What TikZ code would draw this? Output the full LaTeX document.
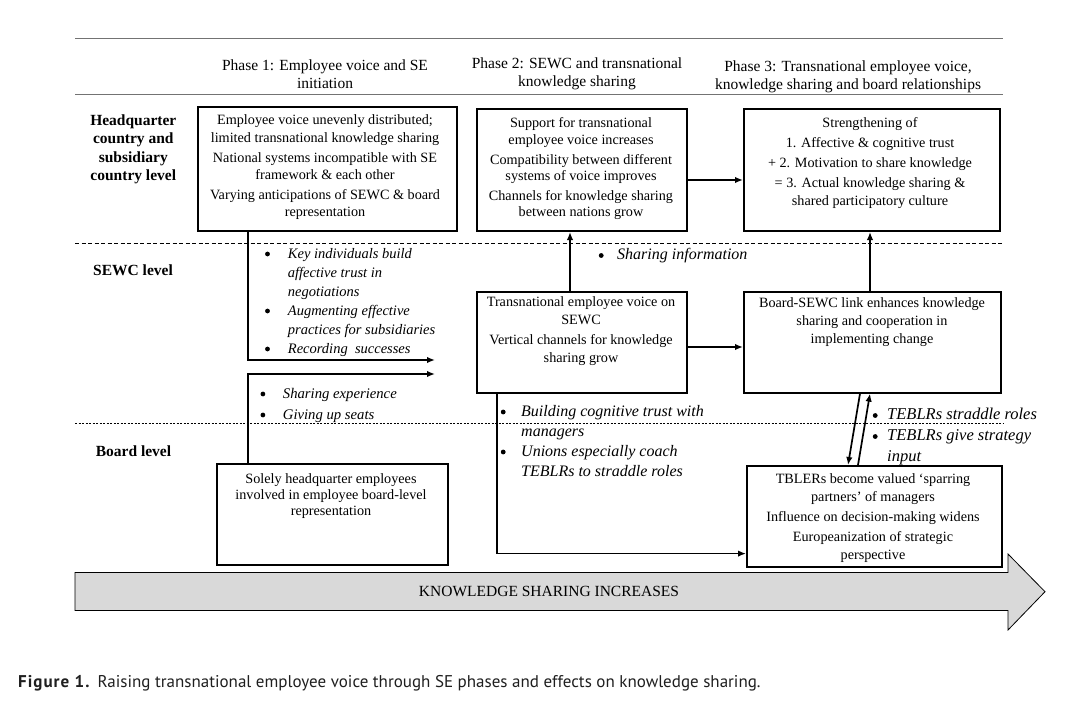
\documentclass[tikz,border=0pt]{standalone}
\usepackage{fontspec}
\setmainfont{Liberation Serif}
\newfontfamily\capfont{PT Sans}
\usetikzlibrary{arrows.meta}
\newcommand{\ctab}[1]{\begin{tabular}[t]{@{}c@{}}#1\end{tabular}}
\newcommand{\blist}[2]{\begin{tabular}[t]{@{}p{#1}@{}l@{}}#2\end{tabular}}
\newcommand{\bul}{\tikz[baseline=0pt]\fill[black] (0pt,4pt) circle (2.4pt);}
\tikzset{
  rule/.style={draw=black!55, line width=0.9pt},
  sepdash/.style={draw=black, line width=0.9pt, dash pattern=on 4pt off 2.5pt},
  sepdot/.style={draw=black, line width=1.5pt, dash pattern=on 2pt off 1.5pt},
  topbox/.style={draw=black, line width=2pt, fill=white, anchor=north west, inner sep=0pt},
  lowbox/.style={draw=black, line width=1.6pt, fill=white, anchor=north west, inner sep=0pt},
  hdr/.style={anchor=base, inner sep=0pt, font=\fontsize{15.5}{18.5}\selectfont},
  lab/.style={anchor=base, inner sep=0pt, font=\bfseries\fontsize{15.5}{18.3}\selectfont},
  boxtxt/.style={anchor=base, inner sep=0pt, font=\fontsize{14.2}{17.3}\selectfont},
  bl/.style={anchor=base west, inner sep=0pt, font=\itshape\fontsize{14.5}{19}\selectfont},
  conn/.style={draw=black, line width=1.7pt, -{Latex[length=8pt,width=6.5pt]}},
}
\begin{document}
\begin{tikzpicture}[x=1pt,y=-1pt]
\useasboundingbox[fill=white] (0,0) rectangle (1073,714);

% rules and level separators
\draw[rule] (75,38.5) -- (1003,38.5);
\draw[rule] (75,94.5) -- (1003,94.5);
\draw[sepdash] (75,243) -- (1003,243);
\draw[sepdot] (75,423.5) -- (1003,423.5);

% phase headers
\node[hdr] (p1) at (325,70.5) {\ctab{Phase 1: Employee voice and SE\\initiation}};
\node[hdr] (p2) at (577,68.5) {\ctab{Phase 2: SEWC and transnational\\knowledge sharing}};
\node[hdr] (p3) at (848,71.5) {\ctab{Phase 3: Transnational employee voice,\\knowledge sharing and board relationships}};

% level labels
\node[lab] (r1) at (133.3,125.5) {\ctab{Headquarter\\country and\\subsidiary\\country level}};
\node[lab] (r2) at (133,275) {SEWC level};
\node[lab] (r3) at (133.5,456.5) {Board level};

% boxes
\node[topbox, minimum width=259pt, minimum height=124pt] (b1) at (197,106) {};
\node[topbox, minimum width=210pt, minimum height=122pt] (b2) at (476,108) {};
\node[topbox, minimum width=256pt, minimum height=122pt] (b3) at (743,108) {};
\node[lowbox, minimum width=210pt, minimum height=101pt] (b4) at (476,291) {};
\node[lowbox, minimum width=257pt, minimum height=101pt] (b5) at (743,291) {};
\node[lowbox, minimum width=231pt, minimum height=101pt] (b6) at (216,463) {};
\node[lowbox, minimum width=255pt, minimum height=101pt] (b7) at (746,465) {};

% box texts
\node[boxtxt] (t1) at (325,125) {\ctab{Employee voice unevenly distributed;\\limited transnational knowledge sharing\\[2.7pt]National systems incompatible with SE\\framework \& each other\\[2.7pt]Varying anticipations of SEWC \& board\\representation}};
\node[boxtxt, font=\fontsize{14.2}{16.8}\selectfont] (t2) at (581,128) {\ctab{Support for transnational\\employee voice increases\\[2.5pt]Compatibility between different\\systems of voice improves\\[2.5pt]Channels for knowledge sharing\\between nations grow}};
\node[boxtxt, font=\fontsize{14.2}{18}\selectfont] (t3) at (870,128) {\ctab{Strengthening of\\[2pt]1. Affective \& cognitive trust\\[2pt]+ 2. Motivation to share knowledge\\[2pt]= 3. Actual knowledge sharing \&\\shared participatory culture}};
\node[boxtxt, font=\fontsize{14.2}{18}\selectfont] (t4) at (581,306.5) {\ctab{Transnational employee voice on\\SEWC\\[2pt]Vertical channels for knowledge\\sharing grow}};
\node[boxtxt, font=\fontsize{14.2}{18}\selectfont] (t5) at (872,307.5) {\ctab{Board-SEWC link enhances knowledge\\sharing and cooperation in\\implementing change}};
\node[boxtxt, font=\fontsize{14.2}{16}\selectfont] (t6) at (331,483.5) {\ctab{Solely headquarter employees\\involved in employee board-level\\representation}};
\node[boxtxt, font=\fontsize{14.2}{18}\selectfont] (t7) at (873,483.5) {\ctab{TBLERs become valued ‘sparring\\partners’ of managers\\[2pt]Influence on decision-making widens\\[2pt]Europeanization of strategic\\perspective}};

% bullet lists
\node[bl] (l1) at (264.9,258) {\blist{22.8pt}{\bul & Key individuals build\\ & affective trust in\\ & negotiations\\ \bul & Augmenting effective\\ & practices for subsidiaries\\ \bul & Recording\ \ successes}};
\node[bl, font=\itshape\fontsize{14.7}{21}\selectfont] (l2) at (260.3,398) {\blist{22.4pt}{\bul & Sharing experience\\ \bul & Giving up seats}};
\node[bl, font=\itshape\fontsize{16}{19}\selectfont] (l3) at (598.6,259.5) {\blist{18.4pt}{\bul & Sharing information}};
\node[bl, font=\itshape\fontsize{16}{20}\selectfont] (l4) at (500.6,416) {\blist{20.4pt}{\bul & Building cognitive trust with\\ & managers\\ \bul & Unions especially coach\\ & TEBLRs to straddle roles}};
\node[bl, font=\itshape\fontsize{16.5}{21}\selectfont] (l5) at (872.6,419.5) {\blist{14.4pt}{\bul & TEBLRs straddle roles\\ \bul & TEBLRs give strategy\\ & input}};

% connector end points
\coordinate (k1) at (435,360);
\coordinate (k2) at (435,374);

% connectors
\draw[conn] ([xshift=51pt]b1.south west) |- (k1);
\draw[conn] ([xshift=32pt]b6.north west) |- (k2);
\draw[conn] ([xshift=94pt]b4.north west) -- ([xshift=94pt]b2.south west);
\draw[conn] ([yshift=-72pt]b2.north east) -- ([yshift=-72pt]b3.north west);
\draw[conn] ([yshift=-56pt]b4.north east) -- ([yshift=-56pt]b5.north west);
\draw[conn] ([xshift=127pt]b5.north west) -- ([xshift=127pt]b3.south west);
\draw[conn] ([xshift=21pt]b4.south west) |- ([yshift=14pt]b7.south west);
\draw[conn] ([xshift=117pt]b5.south west) -- ([xshift=102pt]b7.north west);
\draw[conn] ([xshift=112pt]b7.north west) -- ([xshift=127pt]b5.south west);

% big arrow
\draw[line width=0.8pt, fill=black!15] (75,572.5) -- (1008,572.5) -- (1008,554) -- (1045,591.7) -- (1008,630) -- (1008,610.5) -- (75,610.5) -- cycle;
\node[anchor=base, inner sep=0pt, font=\fontsize{15.5}{18}\selectfont] (ksi) at (549,596.5) {KNOWLEDGE SHARING INCREASES};

% caption
\node[anchor=base west, inner sep=0pt, font=\capfont\fontsize{17}{20}\selectfont, text=black!88] (cap) at (18,687) {{\bfseries\addfontfeature{LetterSpace=6}Figure 1.}\hspace{8pt}Raising transnational employee voice through SE phases and effects on knowledge sharing.};
\end{tikzpicture}
\end{document}
